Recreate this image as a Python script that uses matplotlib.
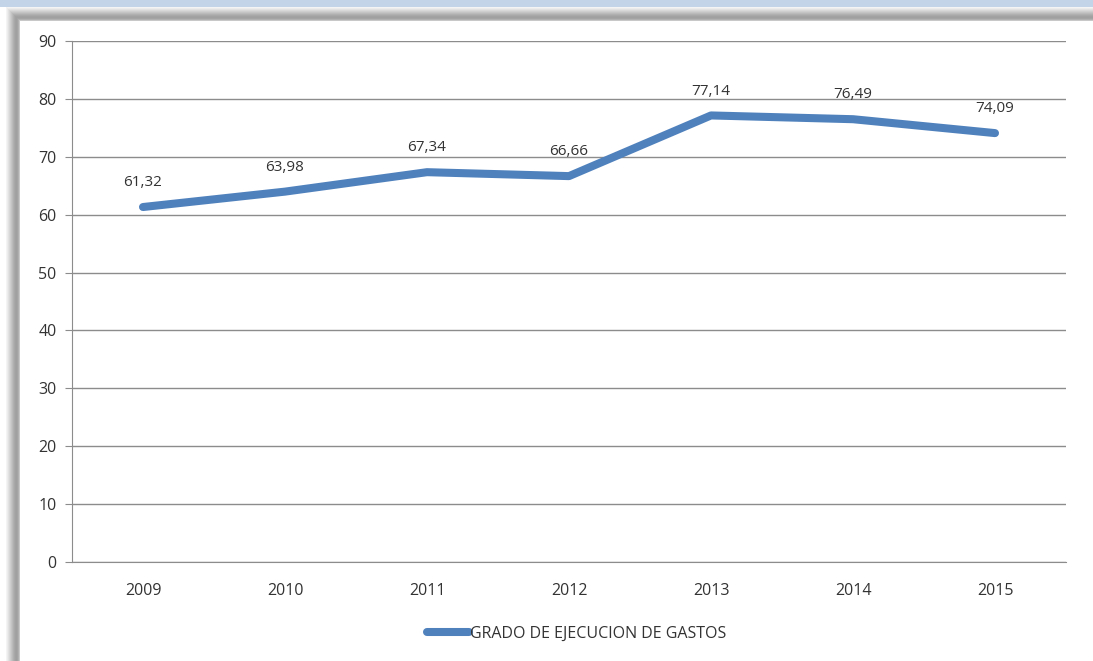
import matplotlib
matplotlib.use("Agg")
import matplotlib.pyplot as plt
from matplotlib.patches import Rectangle

years = ["2009", "2010", "2011", "2012", "2013", "2014", "2015"]
values = [61.32, 63.98, 67.34, 66.66, 77.14, 76.49, 74.09]
value_labels = ["61,32", "63,98", "67,34", "66,66", "77,14", "76,49", "74,09"]
series_name = "GRADO DE EJECUCION DE GASTOS"
yticks = [0, 10, 20, 30, 40, 50, 60, 70, 80, 90]

plt.rcParams['font.family'] = ['Open Sans', 'DejaVu Sans']

W, H = 1093, 661
fig = plt.figure(figsize=(W / 100, H / 100), dpi=100)
fig.patch.set_facecolor("white")

# background decorations: light blue top strip, grey shadow frame
fig.add_artist(Rectangle((0, 1 - 7 / H), 1, 7 / H, transform=fig.transFigure,
                         facecolor="#c3d3e8", edgecolor="none", zorder=-10))
shades = ["#f4f4f4", "#ececec", "#e2e2e2", "#d8d8d8", "#cecece", "#c4c4c4", "#bababa",
          "#b0b0b0", "#a8a8a8", "#a2a2a2", "#a0a0a0", "#a4a4a4", "#b0b0b0", "#c8c8c8"]
n = len(shades)
for i, c in enumerate(shades):
    # left shadow (x from 6 to 20)
    fig.add_artist(Rectangle(((6 + i) / W, 0), 1 / W, 1 - (8 + i) / H, transform=fig.transFigure,
                             facecolor=c, edgecolor="none", zorder=-9))
    # top shadow (y from 7 to 20)
    fig.add_artist(Rectangle(((6 + i) / W, 1 - (8 + i) / H), 1 - (6 + i) / W, 1 / H,
                             transform=fig.transFigure, facecolor=c, edgecolor="none", zorder=-9))

ax = fig.add_axes([72 / W, (H - 562) / H, (1066 - 72) / W, (562 - 41) / H])
ax.set_facecolor("none")
x = list(range(len(years)))
line, = ax.plot(x, values, color="#4f81bd", linewidth=5.8, solid_capstyle="round",
                solid_joinstyle="round", label=series_name, zorder=3)
for xi, v, lab in zip(x, values, value_labels):
    ax.annotate(lab, (xi, v), xytext=(0, 17.5), textcoords="offset points",
                ha="center", va="center", fontsize=11, color="#333333")

ax.set_xlim(-0.5, len(years) - 0.5)
ax.set_ylim(0, 90)
ax.set_yticks(yticks)
ax.set_xticks(x)
ax.set_xticklabels(years)
ax.yaxis.grid(True, color="#8c8c8c", linewidth=1)
ax.set_axisbelow(True)
for s in ["top", "right"]:
    ax.spines[s].set_visible(False)
ax.spines["left"].set_color("#8c8c8c")
ax.spines["bottom"].set_color("#8c8c8c")
ax.tick_params(axis="y", length=5, color="#8c8c8c", labelsize=11.5, labelcolor="#333333", pad=6)
ax.tick_params(axis="x", length=0, labelsize=11.5, labelcolor="#333333", pad=15)

leg = fig.legend(handles=[line], loc="center", bbox_to_anchor=(577 / W, 1 - 634 / H),
                 frameon=False, fontsize=11.5, handlelength=2.6, handletextpad=0.1,
                 labelcolor="#333333")

fig.savefig("out.png", dpi=100)
